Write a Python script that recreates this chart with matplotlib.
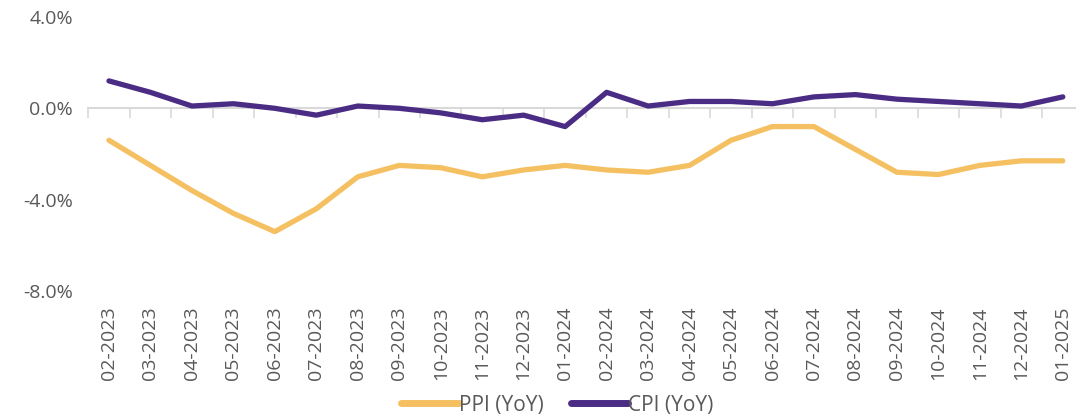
import matplotlib
matplotlib.use("Agg")
import matplotlib.pyplot as plt
from matplotlib.ticker import FuncFormatter, FixedLocator

months = ["02-2023", "03-2023", "04-2023", "05-2023", "06-2023", "07-2023",
          "08-2023", "09-2023", "10-2023", "11-2023", "12-2023", "01-2024",
          "02-2024", "03-2024", "04-2024", "05-2024", "06-2024", "07-2024",
          "08-2024", "09-2024", "10-2024", "11-2024", "12-2024", "01-2025"]
ppi = [-1.4, -2.5, -3.6, -4.6, -5.4, -4.4, -3.0, -2.5, -2.6, -3.0, -2.7, -2.5,
       -2.7, -2.8, -2.5, -1.4, -0.8, -0.8, -1.8, -2.8, -2.9, -2.5, -2.3, -2.3]
cpi = [1.2, 0.7, 0.1, 0.2, 0.0, -0.3, 0.1, 0.0, -0.2, -0.5, -0.3, -0.8,
       0.7, 0.1, 0.3, 0.3, 0.2, 0.5, 0.6, 0.4, 0.3, 0.2, 0.1, 0.5]
y_ticks = [4.0, 0.0, -4.0, -8.0]
series_names = ["PPI (YoY)", "CPI (YoY)"]

plt.rcParams['font.family'] = ['Open Sans', 'DejaVu Sans']
text_color = "#595959"
ppi_color = "#F5C062"
cpi_color = "#4B2C84"

fig = plt.figure(figsize=(10.76, 4.19), dpi=100)
ax = fig.add_axes([0.082, 0.3055, 0.925, 0.654])

x = list(range(len(months)))
ax.plot(x, ppi, color=ppi_color, lw=3.8, solid_capstyle='round', solid_joinstyle='round', label=series_names[0])
ax.plot(x, cpi, color=cpi_color, lw=3.8, solid_capstyle='round', solid_joinstyle='round', label=series_names[1])

ymin, ymax = min(y_ticks), max(y_ticks)
ax.set_ylim(ymin, ymax)
ax.set_xlim(-0.5, len(months) - 0.5)
ax.set_yticks(y_ticks)
ax.yaxis.set_major_formatter(FuncFormatter(lambda v, p: f"{v:.1f}%"))
ax.tick_params(axis='y', length=0, pad=11, labelsize=14, labelcolor=text_color)

ax.set_xticks(x)
ax.set_xticklabels(months, rotation=90)
ax.tick_params(axis='x', length=0, pad=11, labelsize=14, labelcolor=text_color)

for s in ax.spines.values():
    s.set_visible(False)

# category axis crossing at zero
zero_frac = (0 - ymin) / (ymax - ymin)
sec = ax.secondary_xaxis(zero_frac)
sec.xaxis.set_major_locator(FixedLocator([i - 0.5 for i in range(len(months) + 1)]))
sec.tick_params(axis='x', direction='out', length=7, width=1.2, color="#d9d9d9", labelbottom=False, labeltop=False, bottom=True, top=False)
sec.xaxis.set_ticks_position('bottom')
sec.set_xticklabels([])
for name, s in sec.spines.items():
    s.set_visible(name == 'bottom')
sec.spines['bottom'].set_color("#d9d9d9")
sec.spines['bottom'].set_linewidth(1.5)

ax.set_zorder(2)
ax.patch.set_visible(False)

leg = fig.legend(loc='center', bbox_to_anchor=(0.518, 0.033), ncol=2, frameon=False,
                 prop={'size': 15},
                 handlelength=2.75, handletextpad=0.0, columnspacing=1.3,
                 labelcolor=text_color)
for h in leg.get_lines():
    h.set_linewidth(5)
    h.set_solid_capstyle('round')

fig.savefig("out.png", dpi=100)
